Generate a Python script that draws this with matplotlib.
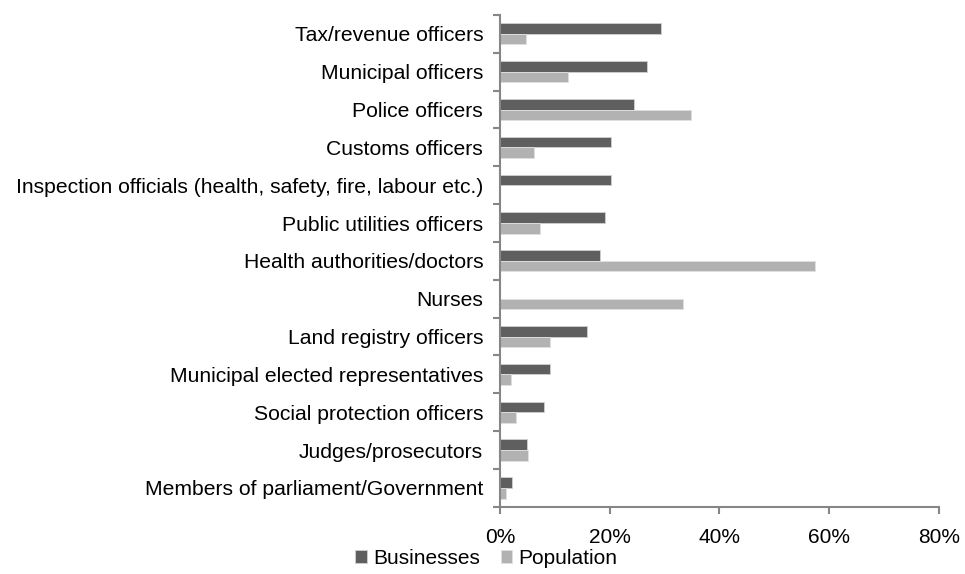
import numpy as np
import matplotlib.pyplot as plt
from matplotlib.ticker import PercentFormatter

plt.rcParams['font.family'] = ['Liberation Sans', 'DejaVu Sans']

categories = ['Tax/revenue officers', 'Municipal officers', 'Police officers',
              'Customs officers',
              'Inspection officials (health, safety, fire, labour etc.)',
              'Public utilities officers', 'Health authorities/doctors', 'Nurses',
              'Land registry officers', 'Municipal elected representatives',
              'Social protection officers', 'Judges/prosecutors',
              'Members of parliament/Government']
businesses = [29.3, 26.8, 24.5, 20.2, 20.2, 19.1, 18.3, 0.0, 15.8, 9.2, 8.1, 4.9, 2.3]
population = [4.8, 12.5, 34.8, 6.3, 0.0, 7.4, 57.4, 33.3, 9.2, 2.0, 3.0, 5.2, 1.2]

fig = plt.figure(figsize=(9.65, 5.74), dpi=100)
ax = fig.add_axes([0.518, 0.117, 0.455, 0.857])

y = np.arange(len(categories))
h = 0.28
ax.barh(y - h / 2, businesses, height=h, color='#5f5f5f', edgecolor='#d0d0d0',
        linewidth=0.6, label='Businesses')
ax.barh(y + h / 2, population, height=h, color='#b2b2b2', edgecolor='#e0e0e0',
        linewidth=0.6, label='Population')

ax.set_ylim(len(categories) - 0.5, -0.5)
ax.set_xlim(0, 80)
ax.set_xticks([0, 20, 40, 60, 80])
ax.xaxis.set_major_formatter(PercentFormatter(decimals=0))

# category labels between boundary ticks
ax.set_yticks(np.arange(len(categories) + 1) - 0.5)
ax.set_yticklabels([])
ax.set_yticks(y, minor=True)
ax.set_yticklabels(categories, minor=True, fontsize=15.2)
ax.tick_params(axis='y', which='minor', length=0, pad=12)
ax.tick_params(axis='y', which='major', length=5, color='#868686', width=1.5)
ax.tick_params(axis='x', length=5, color='#868686', width=1.5, labelsize=15, pad=10)

for s in ['top', 'right']:
    ax.spines[s].set_visible(False)
for s in ['left', 'bottom']:
    ax.spines[s].set_color('#868686')
    ax.spines[s].set_linewidth(1.5)

fig.legend(loc='lower center', bbox_to_anchor=(0.504, -0.022), ncol=2, frameon=False,
           fontsize=15, handlelength=0.55, handleheight=0.55, handletextpad=0.3,
           columnspacing=1.0)

fig.savefig('out.png', dpi=100)
